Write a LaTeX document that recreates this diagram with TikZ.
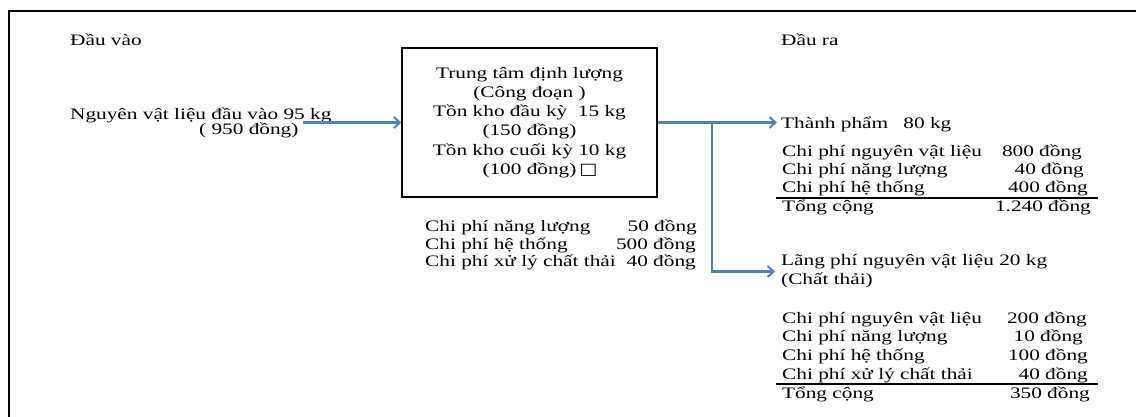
\documentclass[tikz,border=0pt]{standalone}
\usepackage{fontspec}
\setmainfont{Liberation Serif}[FakeStretch=1.33]
\newfontfamily\symfont{DejaVu Sans}[FakeStretch=1.2]
\usetikzlibrary{arrows.meta}
\definecolor{flowblue}{RGB}{79,129,189}
\tikzset{
    txt/.style={inner sep=0pt, font=\fontsize{16}{19}\selectfont},
    flow/.style={draw=flowblue, line width=2.2pt, -{Straight Barb[length=6pt,width=11pt,line width=2pt]}},
}
\begin{document}
\begin{tikzpicture}[x=1pt, y=-1pt]
        \useasboundingbox (0,0) rectangle (1136,416);
        \draw[line width=2pt] (9,420) -- (9,11) -- (1140,11);

        % input
        \node[txt, anchor=base west] (inHead) at (70,45) {Đầu vào};
        \node[txt, anchor=base west] (inName) at (70,119) {Nguyên vật liệu đầu vào 95 kg};
        \node[txt, anchor=base west] (inCost) at (199,134) {( 950 đồng)};

        % centre
        \node[draw, line width=1.3pt, inner sep=0pt, minimum width=255pt, minimum height=149pt, align=center,
              font=\fontsize{16}{19.2}\selectfont] (box) at (529.5,122.5)
            {Trung tâm định lượng\\(Công đoạn )\\Tồn kho đầu kỳ~ 15 kg\\(150 đồng)\\Tồn kho cuối kỳ 10 kg\\(100 đồng)\rlap{\hspace{3pt}{\symfont □}}};
        \foreach \lbl/\val/\y/\xr [count=\i] in {Chi phí năng lượng/50 đồng/231.7/697, Chi phí hệ thống/500 đồng/249.3/696, Chi phí xử lý chất thải/40 đồng/266/696} {
            \node[txt, anchor=base west] (cl\i) at (425,\y) {\lbl};
            \node[txt, anchor=base east] (cv\i) at (\xr,\y) {\val};
        }

        % output
        \node[txt, anchor=base west] (outHead) at (781,45) {Đầu ra};
        \node[txt, anchor=base west] (prod) at (781,128) {Thành phẩm\hspace{10pt} 80 kg};
        \foreach \lbl/\val/\y/\xr [count=\i] in {Chi phí nguyên vật liệu/800 đồng/156/1082, Chi phí năng lượng/40 đồng/174/1084, Chi phí hệ thống/400 đồng/192/1088, Tổng cộng/1.240 đồng/211.7/1091} {
            \node[txt, anchor=base west] (pl\i) at (782,\y) {\lbl};
            \node[txt, anchor=base east] (pv\i) at (\xr,\y) {\val};
        }
        \draw[line width=1.3pt] (776,198) -- (1098,198);

        \node[txt, anchor=west, align=left] (waste) at (781,271.5) {Lãng phí nguyên vật liệu 20 kg\\(Chất thải)};
        \foreach \lbl/\val/\y/\xr [count=\i] in {Chi phí nguyên vật liệu/200 đồng/323.3/1087, Chi phí năng lượng/10 đồng/341.7/1083, Chi phí hệ thống/100 đồng/360/1088, Chi phí xử lý chất thải/40 đồng/379/1088, Tổng cộng/350 đồng/398.3/1090} {
            \node[txt, anchor=base west] (wl\i) at (782,\y) {\lbl};
            \node[txt, anchor=base east] (wv\i) at (\xr,\y) {\val};
        }
        \draw[line width=1.3pt] (776,384) -- (1098,384);

        % arrows
        \coordinate (inTail) at (303,122.5);
        \coordinate (split) at (712,122.5);
        \draw[flow] (inTail) -- (box.west);
        \draw[flow, shorten >=4pt] (box.east) -- (box.east -| prod.west);
        \draw[flow, shorten >=6pt] (split) |- (waste.west);

    \end{tikzpicture}
\end{document}
